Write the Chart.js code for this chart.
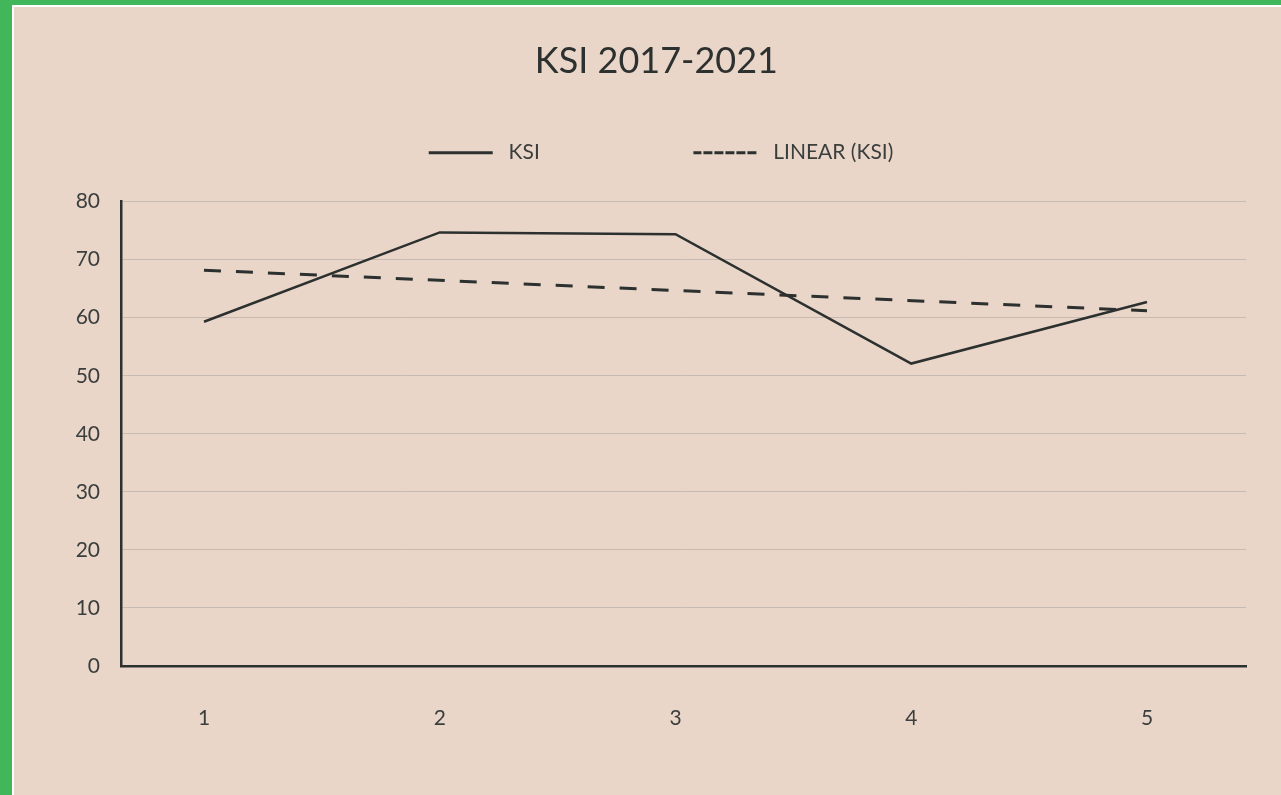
<!DOCTYPE html>
<html>
<head>
<meta charset="utf-8">
<script src="https://cdn.jsdelivr.net/npm/chart.js@4/dist/chart.umd.min.js"></script>
<style>
  html, body { margin: 0; padding: 0; }
  body { width: 1281px; height: 795px; background: #42b65a; overflow: hidden; position: relative; }
  #frame {
    position: absolute; left: 12px; top: 5px; right: 0; bottom: 0;
    border-left: 2px solid #ffffff; border-top: 2px solid #ffffff;
    background: #e9d6c9;
  }
  #box { position: absolute; left: 0; top: 0; width: 1267px; height: 788px; }
</style>
</head>
<body>
<div id="frame"><div id="box"><canvas id="ksiChart"></canvas></div></div>
<script>
// data
const years = [1, 2, 3, 4, 5];
const ksiValues = [59.3, 74.7, 74.4, 52.1, 62.7];
const trendYears = [1, 5];
const trendValues = [68.2, 61.2];
const yMin = 0, yMax = 80, yStep = 10;

const ink = '#2c302f';
const textColor = '#3a3e3d';
const gridColor = '#c6bab2';

const legendText = [' KSI' + '\u2003'.repeat(6) + '\u2002\u2005 ', ' LINEAR (KSI)'];
const legendDash = [[], [8, 3]];

const data = {
    datasets: [{
        label: 'KSI',
        data: years.map((x, i) => ({ x: x, y: ksiValues[i] })),
        borderColor: ink,
        borderWidth: 2.5,
        pointRadius: 0,
        tension: 0
    }, {
        label: 'LINEAR (KSI)',
        data: trendYears.map((x, i) => ({ x: x, y: trendValues[i] })),
        borderColor: ink,
        borderWidth: 3,
        borderDash: [17, 15],
        pointRadius: 0,
        tension: 0
    }]
};

const config = {
    type: 'line',
    data: data,
    options: {
        responsive: true,
        maintainAspectRatio: false,
        animation: false,
        layout: { padding: { left: 62, right: 35, top: 0, bottom: 24 } },
        plugins: {
            title: {
                display: true,
                text: 'KSI 2017-2021 ',
                color: ink,
                font: { family: 'Lato', size: 36, weight: 'normal' },
                padding: { top: 33, bottom: 21 }
            },
            legend: {
                display: true,
                position: 'top',
                labels: {
                    font: { family: 'Lato', size: 21 },
                    color: textColor,
                    boxWidth: 64,
                    boxHeight: 0,
                    padding: 38,
                    generateLabels: chart => chart.data.datasets.map((ds, i) => ({
                        text: legendText[i],
                        fillStyle: 'rgba(0,0,0,0)',
                        strokeStyle: ds.borderColor,
                        lineWidth: 3,
                        lineDash: legendDash[i],
                        fontColor: textColor,
                        hidden: false,
                        datasetIndex: i
                    }))
                }
            },
            tooltip: { enabled: false }
        },
        scales: {
            x: {
                type: 'linear',
                min: 0.648,
                max: 5.42,
                afterBuildTicks: scale => { scale.ticks = years.map(v => ({ value: v })); },
                grid: { display: false, drawTicks: false },
                border: { display: true, color: ink, width: 2.5 },
                ticks: {
                    font: { family: 'Lato', size: 21 },
                    color: textColor,
                    padding: 40,
                    maxRotation: 0,
                    callback: v => String(v)
                }
            },
            // empty top axis, only keeps the gap between legend and plot
            gap: {
                type: 'linear',
                position: 'top',
                grid: { display: false, drawTicks: false },
                border: { display: false },
                ticks: { display: false },
                afterFit: scale => { scale.height = 28.5; }
            },
            y: {
                min: yMin,
                max: yMax,
                afterFit: scale => { scale.width = 45; },
                grid: { color: gridColor, lineWidth: 1, drawTicks: false },
                border: { display: true, color: ink, width: 2.5 },
                ticks: {
                    stepSize: yStep,
                    font: { family: 'Lato', size: 21 },
                    color: textColor,
                    padding: 21
                }
            }
        }
    }
};

const ksiChart = new Chart(document.getElementById('ksiChart'), config);
</script>
</body>
</html>
